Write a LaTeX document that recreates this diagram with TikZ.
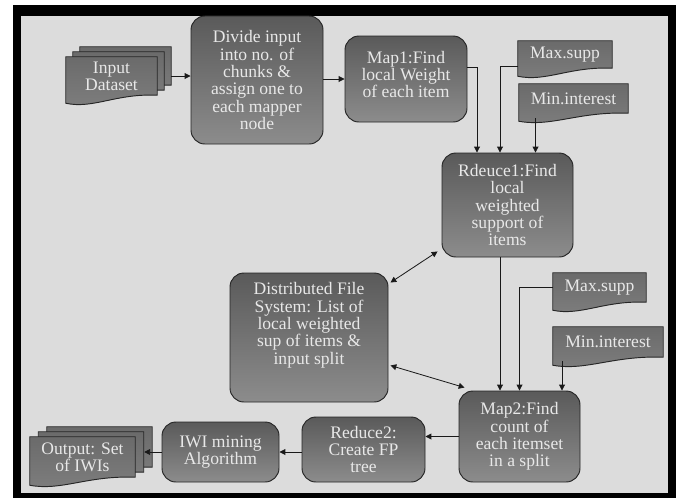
\documentclass[tikz,border=0pt]{standalone}
\usepackage{fontspec}
\setmainfont{Liberation Serif}
\usetikzlibrary{positioning,calc,arrows.meta,backgrounds}
\definecolor{panelgray}{RGB}{220,220,220}
\definecolor{boxtop}{RGB}{90,90,90}
\definecolor{boxbottom}{RGB}{140,140,140}
\definecolor{boxtext}{RGB}{232,232,232}

% document shape with wavy bottom, drawn behind node #1, shifted by (#2,#3)
\newcommand{\wavedoc}[3]{%
  \draw[docline] ($(#1.north west)+(#2,#3)$) -- ($(#1.north east)+(#2,#3)$) -- ($(#1.south east)+(#2,#3)$)
    .. controls ($(#1.south east)!0.45!(#1.south west)+(#2,#3)+(0,-2)$) and ($(#1.south east)!0.7!(#1.south west)+(#2,#3)+(0,14)$)
    .. ($(#1.south west)+(#2,#3)+(0,8)$) -- cycle;}

\begin{document}
\begin{tikzpicture}[x=0.03cm, y=-0.03cm,
    every node/.style={font=\fontsize{15}{14.8}\selectfont, text=boxtext, align=center, inner sep=0pt},
    procbox/.style={draw=black!85, line width=0.8pt, rounded corners=0.42cm, top color=boxtop, bottom color=boxbottom},
    docbox/.style={},
    docline/.style={draw=black!85, line width=0.8pt, top color=boxtop!90!white, bottom color=boxbottom!90!black},
    arr/.style={-{Triangle[length=5pt,width=5pt]}, draw=black!90, line width=0.7pt},
    dblarr/.style={{Triangle[length=5pt,width=5pt]}-{Triangle[length=5pt,width=5pt]}, draw=black!90, line width=0.7pt}]

    \useasboundingbox (0,0) rectangle (680,498);

    % process boxes
    \node [procbox, minimum width=3.96cm, minimum height=3.84cm] (divide) at (257,80)
        {Divide input\\into no. of\\chunks \&\\assign one to\\each mapper\\node};
    \node [procbox, minimum width=3.66cm, minimum height=2.58cm, text depth=8pt] (map1) at (406,79)
        {Map1:Find\\local Weight\\of each item};
    \node [procbox, minimum width=3.93cm, minimum height=3.12cm] (reduce1) at (507.5,205)
        {Rdeuce1:Find\\local\\weighted\\support of\\items};
    \node [procbox, minimum width=4.74cm, minimum height=3.87cm, text depth=24pt] (dfs) at (309,337.5)
        {Distributed File\\System: List of\\local weighted\\sup of items \&\\input split};
    \node [procbox, minimum width=3.63cm, minimum height=2.73cm] (map2) at (519.5,436.5)
        {Map2:Find\\count of\\each itemset\\in a split};
    \node [procbox, minimum width=3.69cm, minimum height=1.95cm] (reduce2) at (363.5,449.5)
        {Reduce2:\\Create FP\\tree};
    \node [procbox, minimum width=3.51cm, minimum height=1.8cm] (iwi) at (220.5,452)
        {IWI mining\\Algorithm};

    % documents
    \node [docbox, minimum width=2.73cm, minimum height=1.14cm] (input) at (111.5,76) {Input\\Dataset};
    \node [docbox, minimum width=3.15cm, minimum height=1.2cm] (output) at (82.5,457) {Output: Set\\of IWIs};
    \node [docbox, minimum width=2.82cm, minimum height=0.81cm] (maxsuppA) at (565,54.5) {Max.supp};
    \node [docbox, minimum width=3.27cm, minimum height=0.87cm] (mininterA) at (573.5,98.5) {Min.interest};
    \node [docbox, minimum width=2.79cm, minimum height=0.87cm] (maxsuppB) at (599.5,287.5) {Max.supp};
    \node [docbox, minimum width=3.3cm, minimum height=0.9cm] (mininterB) at (608,342) {Min.interest};

    \begin{scope}[on background layer]
        \fill [black] (13,5) rectangle (676,498);
        \fill [panelgray] (21,16) rectangle (668,493);
        \wavedoc{input}{14}{-10}
        \wavedoc{input}{7}{-5}
        \wavedoc{input}{0}{0}
        \wavedoc{output}{17}{-10}
        \wavedoc{output}{8.5}{-5}
        \wavedoc{output}{0}{0}
        \wavedoc{maxsuppA}{0}{0}
        \wavedoc{mininterA}{0}{0}
        \wavedoc{maxsuppB}{0}{0}
        \wavedoc{mininterB}{0}{0}
    \end{scope}

    % connectors
    \coordinate (inEnd) at ($(input.east)+(14,0)$);
    \coordinate (mapTap) at ($(map1.east)+(0,-12)$);
    \coordinate (suppTap) at ($(maxsuppA.west)+(0,12)$);
    \coordinate (intTapA) at ($(mininterA.south)+(-38,5)$);
    \coordinate (redOut) at ($(reduce1.south)+(-7.5,0)$);
    \coordinate (intTapB) at ($(mininterB.south)+(-46,4)$);
    \coordinate (outEnd) at ($(output.east)+(9,0)$);

    \draw [arr] (inEnd) -- (inEnd -| divide.west);
    \draw [arr] (divide.east |- map1.west) -- (map1.west);
    \draw [arr] (mapTap) -| ($(reduce1.north)+(-30.5,0)$);
    \draw [arr] (suppTap) -| ($(reduce1.north)+(-7.5,0)$);
    \draw [arr] (intTapA) -- (intTapA |- reduce1.north);
    \draw [arr] (redOut) -- (redOut |- map2.north);
    \draw [arr] (maxsuppB.west) -| (map2.north);
    \draw [arr] (intTapB) -- (intTapB |- map2.north);
    \draw [dblarr] ($(dfs.north east)+(2,10)$) -- ($(reduce1.south west)+(-4,-6)$);
    \draw [dblarr] ($(dfs.east)+(2,28)$) -- ($(map2.north west)+(6,-3)$);
    \draw [arr] (map2.west) -- (map2.west -| reduce2.east);
    \draw [arr] (reduce2.west |- iwi.east) -- (iwi.east);
    \draw [arr] (iwi.west) -- (iwi.west -| outEnd);
\end{tikzpicture}
\end{document}
